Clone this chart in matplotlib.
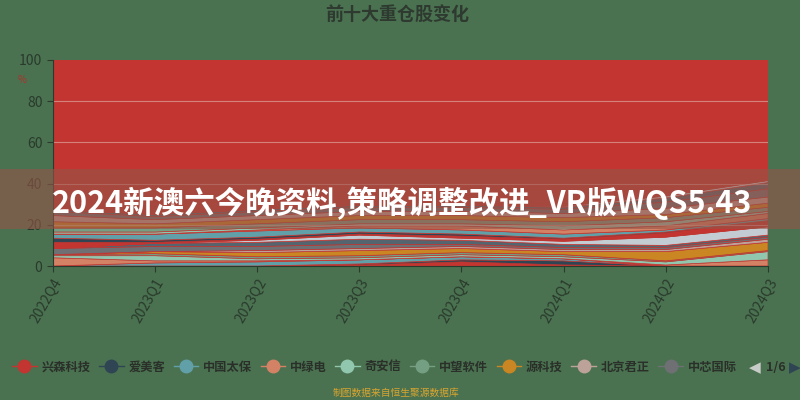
import matplotlib
matplotlib.use("Agg")
import matplotlib.pyplot as plt
from matplotlib.lines import Line2D
from matplotlib.patches import Rectangle
import numpy as np

plt.rcParams['font.family'] = ['Noto Sans CJK SC', 'DejaVu Sans']

quarters = ['2022Q4', '2023Q1', '2023Q2', '2023Q3', '2023Q4', '2024Q1', '2024Q2', '2024Q3']
legend_names = ['兴森科技', '爱美客', '中国太保', '中绿电', '奇安信', '中望软件', '源科技', '北京君正', '中芯国际']

s00 = [0, 0, 0, 0.5, 2, 0.5, 0, 0]
s01 = [0, 0, 0, 0.5, 1, 2, 0, 0]
s02 = [0, 1.5, 2, 2, 1.5, 1, 0, 0]
s03 = [4, 1, 0.5, 0, 0, 0, 0.5, 3]
s04 = [1, 2.5, 1, 1, 1, 1, 1.5, 4]
s05 = [0.5, 1, 1, 1, 1, 1, 0.5, 0.5]
s06 = [0, 1, 2, 2.5, 2, 1.5, 4.5, 4]
s07 = [0, 0, 1, 1, 1, 1, 1, 1.5]
s08 = [3, 2.5, 2, 2, 1, 1, 1, 1]
s09 = [0, 1.5, 2, 2.5, 2, 1.5, 1, 1]
s10 = [0, 0, 1, 2, 1, 1.5, 4, 4]
s11 = [3, 0.5, 0.5, 0.5, 1, 1, 2, 3]
s12 = [2, 1, 1, 1, 1, 0.5, 0.5, 0]
s13 = [2, 3, 3, 2, 2, 2, 1, 1]
s14 = [0, 0, 0.5, 1, 2, 2, 2, 2.5]
s15 = [1, 1, 1, 1, 1, 2, 2, 1]
s16 = [2, 2, 2, 2, 2, 2, 2, 2]
s17 = [3, 2, 2, 2, 2, 2, 1.5, 2]
s18 = [3, 2, 2, 2, 2, 2, 3, 3]
s19 = [2, 1.5, 2, 2, 2, 2, 3, 4]
s20 = [1, 1, 1, 1, 1, 1, 2, 3]
s21 = [0, 0, 0, 0, 0, 0.5, 1, 1]
s22 = [78, 78, 78, 78, 78, 75, 70, 65]

series = [s00, s01, s02, s03, s04, s05, s06, s07, s08, s09, s10, s11,
          s12, s13, s14, s15, s16, s17, s18, s19, s20, s21, s22]

palette = ['#c23531', '#2f4554', '#61a0a8', '#d48265', '#91c7ae', '#749f83',
           '#ca8622', '#bda29a', '#6e7074', '#546570', '#c4ccd3']
colors = [palette[i % len(palette)] for i in range(len(series))]

bg = '#4a7250'
fig = plt.figure(figsize=(8, 4), dpi=100, facecolor=bg)
ax = fig.add_axes([0.066, 0.335, 0.894, 0.515])
ax.set_facecolor(bg)

x = np.arange(len(quarters))
ax.stackplot(x, *series, colors=colors, edgecolor=colors, linewidth=0.5, zorder=2)
ax.set_xlim(0, len(quarters) - 1)
ax.set_ylim(0, 100)

for yv in [20, 40, 60, 80]:
    ax.axhline(yv, color='#e8c0b8', lw=0.8, alpha=0.55, zorder=3)

ax.set_yticks([0, 20, 40, 60, 80, 100])
ax.set_xticks(x)
ax.set_xticklabels(quarters, rotation=60, ha='right', rotation_mode='anchor')
ax.tick_params(axis='both', colors='#2a3a2c', labelsize=10, length=4, width=0.8)
ax.tick_params(axis='x', pad=3)
for sp in ['top', 'right']:
    ax.spines[sp].set_visible(False)
for sp in ['left', 'bottom']:
    ax.spines[sp].set_color('#2a3a2c')
    ax.spines[sp].set_linewidth(0.8)
    ax.spines[sp].set_zorder(5)

fig.text(0.028, 0.80, '%', color='#b03028', fontsize=7, ha='center', va='center')

fig.text(0.497, 0.965, '前十大重仓股变化', fontsize=13, fontweight='black',
         color='#2e3a30', ha='center', va='center')

# banner
fig.patches.append(Rectangle((0, 0.4275), 1, 0.15, transform=fig.transFigure,
                             facecolor=(150/255, 85/255, 72/255), alpha=0.6,
                             edgecolor='none', zorder=10))
fig.text(0.065, 0.4925, '2024新澳六今晚资料,策略调整改进_VR版WQS5.43', fontsize=22,
         fontweight='black', color='white', ha='left', va='center', zorder=11)

handles = [Line2D([0], [0], color=colors[i], marker='o', markersize=9, lw=1,
                  markerfacecolor=colors[i], markeredgecolor=colors[i])
           for i in range(len(legend_names))]
leg = fig.legend(handles, legend_names, ncol=9, loc='center', bbox_to_anchor=(0.468, 0.082),
                 frameon=False, fontsize=8.8, handlelength=2.0, handletextpad=0.4,
                 columnspacing=0.7, labelcolor='#2a3029', borderpad=0.1)
for t in leg.get_texts():
    t.set_fontweight('bold')

fig.text(0.944, 0.082, '◀', color='#c8ccc8', fontsize=11, ha='center', va='center',
         family=['DejaVu Sans'])
fig.text(0.970, 0.082, '1/6', color='#2a3029', fontsize=9, fontweight='bold', ha='center', va='center')
fig.text(0.994, 0.082, '▶', color='#2f4554', fontsize=11, ha='center', va='center',
         family=['DejaVu Sans'])

fig.text(0.495, 0.018, '制图数据来自恒生聚源数据库', color='#d9a530', fontsize=7,
         ha='center', va='center')

fig.savefig('out.png', dpi=100, facecolor=bg)
